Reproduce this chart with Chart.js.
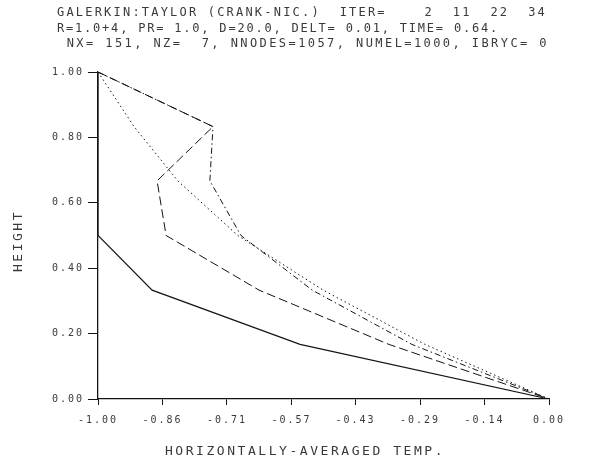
<!DOCTYPE html>
<html><head><meta charset="utf-8">
<script src="https://cdn.jsdelivr.net/npm/chart.js@4.4.0/dist/chart.umd.min.js"></script>
<style>html,body{margin:0;padding:0;background:#fff;} #wrap{width:606px;height:463px;}</style>
</head><body><div id="wrap"><canvas id="c" width="606" height="463"></canvas></div>
<script>
// ---- data ----
const heights      = [1.000, 0.833, 0.667, 0.500, 0.333, 0.167, 0.000];
const tempSolid    = [-1.000, -1.000, -1.000, -1.000, -0.880, -0.552, 0.000];
const tempLongDash = [-1.000, -0.745, -0.869, -0.849, -0.643, -0.355, 0.000];
const tempDashDot  = [-1.000, -0.745, -0.752, -0.683, -0.525, -0.304, 0.000];
const tempDotted   = [-1.000, -0.920, -0.823, -0.690, -0.501, -0.275, 0.000];

const xTickValues = [-1.000, -0.857, -0.714, -0.571, -0.429, -0.286, -0.143, 0.000];
const xTickLabels = ['-1.00', '-0.86', '-0.71', '-0.57', '-0.43', '-0.29', '-0.14', '0.00'];
const yTickValues = [0.0, 0.2, 0.4, 0.6, 0.8, 1.0];
const yTickLabels = ['0.00', '0.20', '0.40', '0.60', '0.80', '1.00'];

const titleLines = [
  'GALERKIN:TAYLOR (CRANK-NIC.)  ITER=    2  11  22  34',
  'R=1.0+4, PR= 1.0, D=20.0, DELT= 0.01, TIME= 0.64.',
  ' NX= 151, NZ=  7, NNODES=1057, NUMEL=1000, IBRYC= 0'
];
const xTitle = 'HORIZONTALLY-AVERAGED TEMP.';
const yTitle = 'HEIGHT';

// ---- build ----
const pts = arr => arr.map((t, i) => ({ x: t, y: heights[i] }));
const LINE = '#141414';
const TEXT = '#3a3a3a';
const MONO = '"DejaVu Sans Mono", "Liberation Mono", monospace';

function ds(label, arr, dash, w) {
  return { label, data: pts(arr), showLine: true, borderColor: LINE, borderWidth: w,
           borderDash: dash, pointRadius: 0, tension: 0, fill: false };
}

function fitText(ctx, text, x, y, width) {
  ctx.letterSpacing = '0px';
  const w = ctx.measureText(text).width;
  const sp = (width - w) / text.length;
  ctx.letterSpacing = sp.toFixed(3) + 'px';
  ctx.fillText(text, x, y);
  ctx.letterSpacing = '0px';
}

const textPlugin = {
  id: 'plotText',
  beforeDraw(chart) { chart.ctx.letterSpacing = '2px'; },
  afterDraw(chart) {
    const ctx = chart.ctx;
    ctx.letterSpacing = '0px';
    ctx.save();
    ctx.fillStyle = TEXT;
    ctx.textBaseline = 'middle';
    ctx.textAlign = 'left';
    ctx.font = '12px ' + MONO;
    const starts = [57, 57, 57];
    const widths = [490, 442, 492];
    const ys = [13, 29, 44];
    titleLines.forEach((t, i) => fitText(ctx, t, starts[i], ys[i], widths[i]));
    ctx.font = '13px ' + MONO;
    fitText(ctx, xTitle, 165, 452, 280);
    ctx.translate(19, 242);
    ctx.rotate(-Math.PI / 2);
    fitText(ctx, yTitle, -30, 0, 62);
    ctx.restore();
  }
};

new Chart(document.getElementById('c'), {
  type: 'scatter',
  data: {
    datasets: [
      ds('solid', tempSolid, [], 1.2),
      ds('long dash', tempLongDash, [9, 4], 1),
      ds('dash dot', tempDashDot, [6, 3, 1.5, 3], 1),
      ds('dotted', tempDotted, [1.5, 3], 1)
    ]
  },
  options: {
    responsive: false,
    devicePixelRatio: 1,
    animation: false,
    layout: { padding: { top: 72, right: 57, left: 0, bottom: 0 } },
    plugins: { legend: { display: false }, tooltip: { enabled: false }, title: { display: false } },
    scales: {
      x: {
        type: 'linear', position: 'bottom', min: -1, max: 0,
        afterBuildTicks: s => { s.ticks = xTickValues.map(v => ({ value: v })); },
        afterFit: s => { s.height = 64; },
        ticks: { autoSkip: false, maxRotation: 0, minRotation: 0, padding: 9, color: TEXT,
                 font: { family: MONO, size: 10 }, callback: (v, i) => xTickLabels[i] },
        grid: { drawOnChartArea: false, drawTicks: true, tickLength: 6, color: LINE, lineWidth: 1 },
        border: { display: true, color: LINE, width: 1.3 }
      },
      y: {
        type: 'linear', position: 'left', min: 0, max: 1,
        afterBuildTicks: s => { s.ticks = yTickValues.map(v => ({ value: v })); },
        afterFit: s => { s.width = 98; },
        ticks: { autoSkip: false, padding: 4, color: TEXT,
                 font: { family: MONO, size: 10 }, callback: (v, i) => yTickLabels[i] },
        grid: { drawOnChartArea: false, drawTicks: true, tickLength: 10, color: LINE, lineWidth: 1 },
        border: { display: true, color: LINE, width: 1.3 }
      }
    }
  },
  plugins: [textPlugin]
});
</script>
</body></html>
